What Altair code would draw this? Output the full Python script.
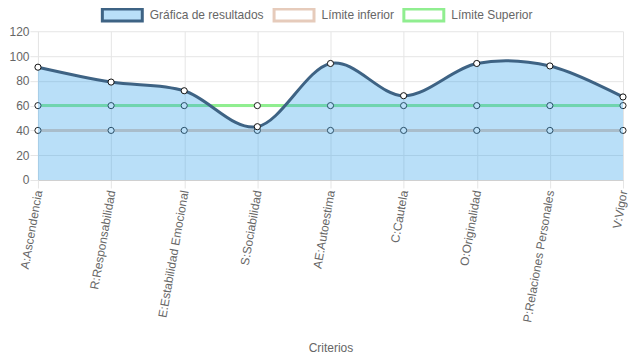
import altair as alt
import pandas as pd

criterios = ["A:Ascendencia", "R:Responsabilidad", "E:Estabilidad Emocional", "S:Sociabilidad",
             "AE:Autoestima", "C:Cautela", "O:Originalidad", "P:Relaciones Personales", "V:Vigor"]
resultados = [91, 79, 72, 43, 94, 68, 94, 92, 67]
limite_inferior = [40, 40, 40, 40, 40, 40, 40, 40, 40]
limite_superior = [60, 60, 60, 60, 60, 60, 60, 60, 60]
series = ["Gráfica de resultados", "Límite inferior", "Límite Superior"]
y_ticks = [0, 20, 40, 60, 80, 100, 120]

rows = []
for s, vals in zip(series, [resultados, limite_inferior, limite_superior]):
    for c, v in zip(criterios, vals):
        rows.append({"criterio": c, "serie": s, "valor": v})
df = pd.DataFrame(rows)

FONT = "Arial"
GRID = "#e5e5e5"
stroke_range = ["#3e6384", "#e6cbbb", "#90ee90"]
fill_range = ["rgba(54,162,235,0.35)", "white", "white"]

legend = alt.Legend(
    title=None, orient="none", legendX=78, legendY=-23, direction="horizontal",
    symbolType="M-4,-1.2H4V1.2H-4Z", symbolSize=100, symbolStrokeWidth=3,
    labelFont=FONT, labelFontSize=12, labelColor="#666666", labelOffset=21,
    columnPadding=3, symbolOpacity=1,
)

x = alt.X("criterio:N", sort=criterios, title="Criterios",
          scale=alt.Scale(type="point", padding=0),
          axis=alt.Axis(labelAngle=-80, labelFont=FONT, labelFontSize=12, labelColor="#666666",
                        titleFont=FONT, titleFontSize=12, titleColor="#666666", titleFontWeight="normal",
                        titlePadding=20,
                        grid=True, gridColor=GRID, tickColor=GRID, tickSize=8, domainColor="#d0d0d0",
                        labelPadding=2))
y = alt.Y("valor:Q", title=None,
          scale=alt.Scale(domain=[0, 120], nice=False),
          axis=alt.Axis(values=y_ticks, labelFont=FONT, labelFontSize=12, labelColor="#666666",
                        grid=True, gridColor=GRID, tickColor=GRID, tickSize=8, domainColor=GRID,
                        labelPadding=1))

stroke = alt.Stroke("serie:N", scale=alt.Scale(domain=series, range=stroke_range), legend=legend)
fill = alt.Fill("serie:N", scale=alt.Scale(domain=series, range=fill_range), legend=legend)

base = alt.Chart(df)
limits = base.transform_filter(alt.datum.serie != series[0])
res = base.transform_filter(alt.datum.serie == series[0])

lim_lines = limits.mark_line(strokeWidth=3).encode(x=x, y=y, stroke=stroke, detail="serie:N")
lim_points = limits.mark_point(filled=True, size=38, fill="white", stroke="#222222", strokeWidth=1,
                               opacity=1).encode(x=x, y=y, detail="serie:N")
area = res.mark_area(interpolate="cardinal", tension=0).encode(x=x, y=y, fill=fill)
res_line = res.mark_line(interpolate="cardinal", tension=0, strokeWidth=3).encode(x=x, y=y, stroke=stroke)
res_points = res.mark_point(filled=True, size=38, fill="white", stroke="#111111", strokeWidth=1,
                            opacity=1).encode(x=x, y=y)

chart = alt.layer(lim_lines, lim_points, area, res_line, res_points).properties(
    width=586, height=149,
    padding={"left": 0, "top": 0, "right": 0, "bottom": 0},
).configure_view(stroke=None)

chart.save("out.html", embed_options={"renderer": "svg", "actions": False})
